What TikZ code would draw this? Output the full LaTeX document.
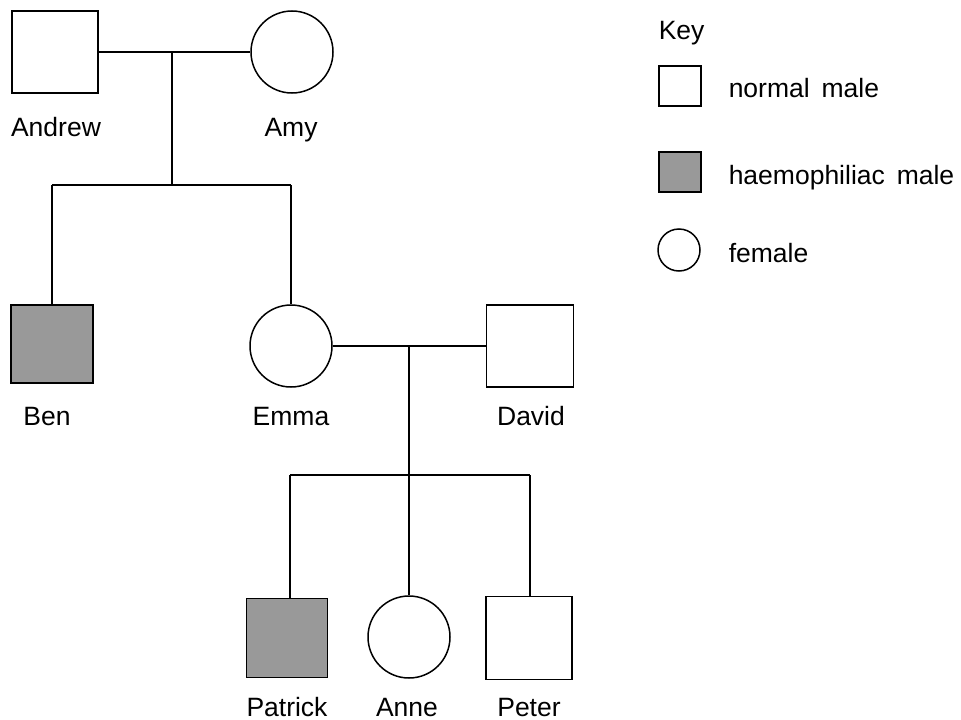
\documentclass[tikz,border=0pt]{standalone}
\usepackage{fontspec}
\setmainfont{Liberation Sans}
\definecolor{hgrey}{RGB}{153,153,153}
\begin{document}
\begin{tikzpicture}[x=1pt,y=-1pt,
  line width=1.5pt,
  male/.style={draw, rectangle, fill=white, inner sep=0pt, minimum width=86pt, minimum height=82pt},
  affected/.style={male, fill=hgrey},
  female/.style={draw, circle, fill=white, inner sep=0pt, minimum size=82pt},
  keysq/.style={draw, rectangle, fill=white, inner sep=0pt, minimum width=42pt, minimum height=40pt},
  keycirc/.style={draw, circle, fill=white, inner sep=0pt, minimum size=42pt},
  lbl/.style={anchor=base, inner sep=0pt, font=\fontsize{26.5}{30}\selectfont},
  klbl/.style={anchor=base west, inner sep=0pt, font=\fontsize{26.5}{30}\selectfont}]
\useasboundingbox (0,0) rectangle (961,720);
% generation 1
\node[male] (andrew) at (55,52) {};
\node[female] (amy) at (292,52) {};
\node[lbl] (landrew) at (56,136) {Andrew};
\node[lbl] (lamy) at (291,136) {Amy};
% generation 2
\node[affected, minimum width=82pt, minimum height=78pt] (ben) at (52,344) {};
\node[female] (emma) at (291,346) {};
\node[male, minimum width=87pt] (david) at (530,346) {};
\node[lbl] (lben) at (47,425) {Ben};
\node[lbl] (lemma) at (291,425) {Emma};
\node[lbl] (ldavid) at (531,425) {David};
% generation 3
\node[affected, minimum width=81pt, minimum height=79pt] (patrick) at (287,638) {};
\node[female] (anne) at (409,637) {};
\node[male, minimum width=86pt, minimum height=83pt] (peter) at (529,638) {};
\node[lbl] (lpatrick) at (287,716) {Patrick};
\node[lbl] (lanne) at (407,716) {Anne};
\node[lbl] (lpeter) at (529,716) {Peter};
% connectors
\coordinate (m1) at (172,52);
\coordinate (c1) at (172,185);
\coordinate (b1) at (52,185);
\coordinate (e1) at (291,185);
\draw (andrew.east) -- (amy.west);
\draw (m1) -- (c1);
\draw (b1) -- (e1);
\draw (b1) -- (ben.north);
\draw (e1) -- (emma.north);
\coordinate (m2) at (409,346);
\coordinate (c2) at (409,475);
\coordinate (p1) at (290,475);
\coordinate (p3) at (530,475);
\draw (emma.east) -- (david.west);
\draw (m2) -- (c2);
\draw (p1) -- (p3);
\draw (p1) -- (p1 |- patrick.north);
\draw (c2) -- (anne.north);
\draw (p3) -- (p3 |- peter.north);
% key
\node[klbl] (key) at (658,39) {Key};
\node[keysq] (knormal) at (680,86) {};
\node[keysq, fill=hgrey] (khaemo) at (680,172) {};
\node[keycirc] (kfemale) at (679,250) {};
\node[klbl] (lnormal) at (728,97) {normal\hspace{0.45em}male};
\node[klbl] (lhaemo) at (728,184) {haemophiliac\hspace{0.45em}male};
\node[klbl] (lfemale) at (728,262) {female};
\end{tikzpicture}
\end{document}
